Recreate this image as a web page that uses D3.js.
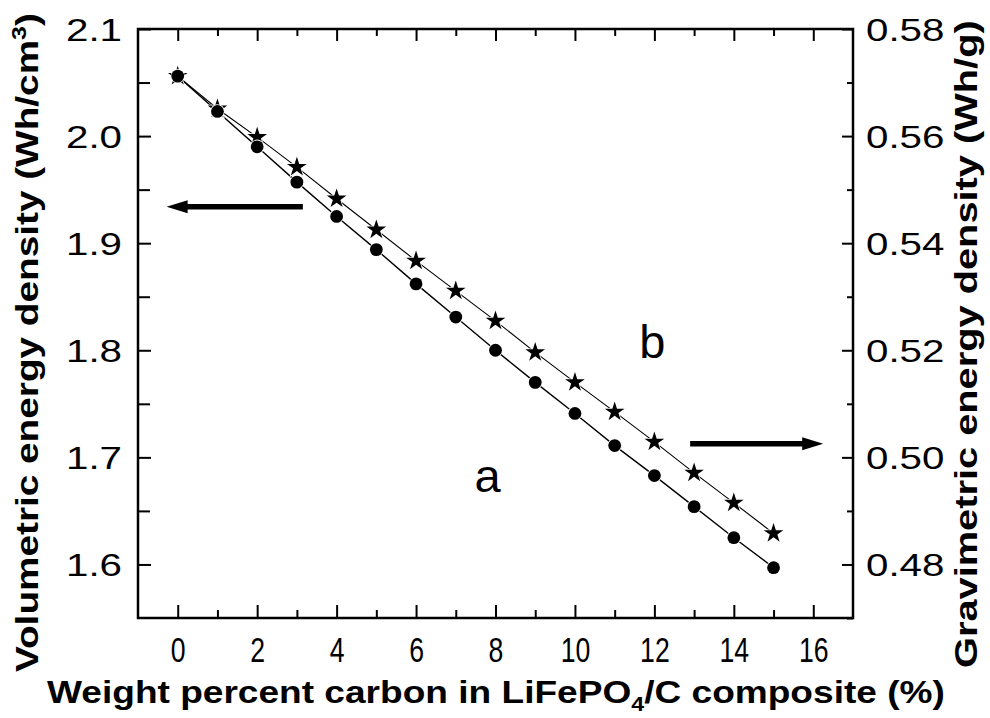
<!DOCTYPE html>
<html>
<head>
<meta charset="utf-8">
<script src="https://cdn.jsdelivr.net/npm/d3@7"></script>
<style>
  html, body { margin: 0; padding: 0; background: #fff; }
  svg { display: block; }
  text { fill: #000; font-family: "Liberation Sans", Arial, sans-serif; }
</style>
</head>
<body>
<svg id="chart" width="990" height="718"></svg>
<script>
// Carbon content of the LiFePO4/C composite (wt %)
const carbonPct = [0, 1, 2, 3, 4, 5, 6, 7, 8, 9, 10, 11, 12, 13, 14, 15];
// (a) volumetric energy density, Wh/cm3 (left axis)
const volumetric = [2.056, 2.023, 1.990, 1.957, 1.925, 1.894, 1.862, 1.831,
                    1.800, 1.770, 1.741, 1.711, 1.683, 1.654, 1.625, 1.597];
// (b) gravimetric energy density, Wh/g (right axis)
const gravimetric = [0.5712, 0.5651, 0.5598, 0.5542, 0.5483, 0.5425, 0.5367, 0.5311,
                     0.5255, 0.5196, 0.5140, 0.5085, 0.5029, 0.4971, 0.4915, 0.4858];

const xTicks = [0, 2, 4, 6, 8, 10, 12, 14, 16];
const xMinorTicks = [1, 3, 5, 7, 9, 11, 13, 15];
const leftTicks = [1.6, 1.7, 1.8, 1.9, 2.0, 2.1];
const leftMinorTicks = [1.65, 1.75, 1.85, 1.95, 2.05];
const rightTicks = [0.48, 0.50, 0.52, 0.54, 0.56, 0.58];
const rightMinorTicks = [0.47, 0.49, 0.51, 0.53, 0.55, 0.57];

const svg = d3.select("#chart");
const L = 138, R = 853, T = 29, B = 618;

const x = d3.scaleLinear().domain([-1, 17]).range([L, R]);
const yL = d3.scaleLinear().domain([1.55, 2.1]).range([B, T]);
const yR = d3.scaleLinear().domain([0.47, 0.58]).range([B, T]);

function styleAxis(g) {
  g.select(".domain").remove();
  g.selectAll(".tick line").attr("stroke", "#000").attr("stroke-width", 2);
}

// bottom axis: labelled majors + unlabelled minors, ticks pointing inward
svg.append("g").attr("transform", `translate(0,${B})`)
  .call(d3.axisBottom(x).tickValues(xTicks).tickSize(-13).tickFormat(d3.format("d")))
  .call(styleAxis)
  .call(g => g.selectAll("text")
    .attr("y", 0).attr("dy", null)
    .attr("transform", "translate(0,44) scale(0.74,1)")
    .style("font-size", "36px"));
svg.append("g").attr("transform", `translate(0,${B})`)
  .call(d3.axisBottom(x).tickValues(xMinorTicks).tickSize(-8).tickFormat(""))
  .call(styleAxis);

// top axis
svg.append("g").attr("transform", `translate(0,${T})`)
  .call(d3.axisTop(x).tickValues(xTicks).tickSize(-12).tickFormat(""))
  .call(styleAxis);
svg.append("g").attr("transform", `translate(0,${T})`)
  .call(d3.axisTop(x).tickValues(xMinorTicks).tickSize(-7).tickFormat(""))
  .call(styleAxis);

// left axis
svg.append("g").attr("transform", `translate(${L},0)`)
  .call(d3.axisLeft(yL).tickValues(leftTicks).tickSize(-13).tickFormat(d3.format(".1f")))
  .call(styleAxis)
  .call(g => g.selectAll("text")
    .attr("x", 0).attr("dy", "0.36em")
    .attr("transform", "translate(-16,0) scale(1.3,1)")
    .style("font-size", "31px"));
svg.append("g").attr("transform", `translate(${L},0)`)
  .call(d3.axisLeft(yL).tickValues(leftMinorTicks).tickSize(-12).tickFormat(""))
  .call(styleAxis);

// right axis
svg.append("g").attr("transform", `translate(${R},0)`)
  .call(d3.axisRight(yR).tickValues(rightTicks).tickSize(-11).tickFormat(d3.format(".2f")))
  .call(styleAxis)
  .call(g => g.selectAll("text")
    .attr("x", 0).attr("dy", "0.36em")
    .attr("transform", "translate(13,0) scale(1.3,1)")
    .style("font-size", "31px"));
svg.append("g").attr("transform", `translate(${R},0)`)
  .call(d3.axisRight(yR).tickValues(rightMinorTicks).tickSize(-6).tickFormat(""))
  .call(styleAxis);

// plot frame
svg.append("rect")
  .attr("x", L).attr("y", T).attr("width", R - L).attr("height", B - T)
  .attr("fill", "none").attr("stroke", "#000").attr("stroke-width", 2.5);

// connecting lines
const lineA = d3.line().x((d, i) => x(carbonPct[i])).y(d => yL(d));
const lineB = d3.line().x((d, i) => x(carbonPct[i])).y(d => yR(d));
svg.append("path").attr("d", lineB(gravimetric))
  .attr("fill", "none").attr("stroke", "#000").attr("stroke-width", 1.1);
svg.append("path").attr("d", lineA(volumetric))
  .attr("fill", "none").attr("stroke", "#000").attr("stroke-width", 1.4);

// star markers (b)
const star = d3.symbol().type(d3.symbolStar).size(120);
svg.append("g").selectAll("path").data(gravimetric).join("path")
  .attr("d", star)
  .attr("transform", (d, i) => `translate(${x(carbonPct[i])},${yR(d)})`)
  .attr("fill", "#000").attr("stroke", "#fff").attr("stroke-width", 1.5)
  .attr("paint-order", "stroke");

// circle markers (a)
svg.append("g").selectAll("circle").data(volumetric).join("circle")
  .attr("cx", (d, i) => x(carbonPct[i]))
  .attr("cy", d => yL(d))
  .attr("r", 6.4)
  .attr("fill", "#000").attr("stroke", "#fff").attr("stroke-width", 1.6)
  .attr("paint-order", "stroke");

// arrows pointing to the axis each curve belongs to
function arrow(x0, x1, yv, yScale) {
  const y0 = yScale(yv), xs = x(x0), xe = x(x1);
  const dir = Math.sign(xe - xs), head = 21;
  svg.append("line")
    .attr("x1", xs).attr("x2", xe - dir * head + dir * 2).attr("y1", y0).attr("y2", y0)
    .attr("stroke", "#000").attr("stroke-width", 5.5);
  svg.append("path")
    .attr("d", `M${xe},${y0} L${xe - dir * head},${y0 - 6.5} L${xe - dir * head},${y0 + 6.5} Z`)
    .attr("fill", "#000");
}
arrow(3.15, -0.28, 1.934, yL);
arrow(12.9, 16.25, 1.7128, yL);

// curve labels
svg.append("text").attr("x", x(7.8)).attr("y", yL(1.6677))
  .attr("text-anchor", "middle").style("font-size", "47px").text("a");
svg.append("text").attr("x", x(11.95)).attr("y", yL(1.7928))
  .attr("text-anchor", "middle").style("font-size", "47px").text("b");

// stretch a text element along its own baseline to a target length
function fit(sel, target, base) {
  const w = sel.node().getComputedTextLength();
  sel.attr("transform", `${base} scale(${target / w},1)`);
}

// x axis title
const xt = svg.append("text")
  .style("font-size", "32px").style("font-weight", "bold");
xt.append("tspan").text("Weight percent carbon in LiFePO");
xt.append("tspan").attr("dy", 8).style("font-size", "20px").text("4");
xt.append("tspan").attr("dy", -8).text("/C composite (%)");
fit(xt, 898, "translate(47,703)");

// left axis title
const lt = svg.append("text")
  .style("font-size", "31px").style("font-weight", "bold");
lt.append("tspan").text("Volumetric energy density (Wh/cm");
lt.append("tspan").attr("dy", -12).style("font-size", "20px").text("3");
lt.append("tspan").attr("dy", 12).text(")");
fit(lt, 659, "translate(38,672) rotate(-90)");

// right axis title
const rt = svg.append("text")
  .style("font-size", "31px").style("font-weight", "bold")
  .text("Gravimetric energy density (Wh/g)");
fit(rt, 648, "translate(977,668) rotate(-90)");
</script>
</body>
</html>
